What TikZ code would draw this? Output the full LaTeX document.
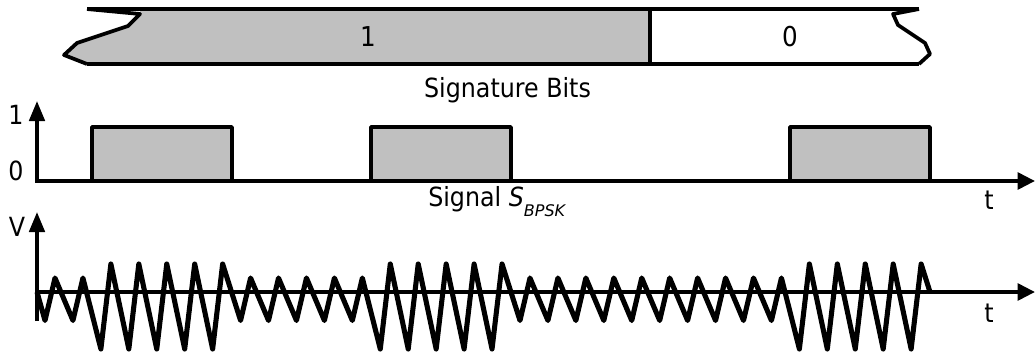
\documentclass[tikz,border=0pt]{standalone}
\usepackage{fontspec}
\setmainfont{DejaVu Sans}[FakeStretch=0.9]
\newfontfamily\subfont{DejaVu Sans}
\usetikzlibrary{arrows.meta}
\definecolor{sgray}{HTML}{C0C0C0}
\begin{document}
\begin{tikzpicture}[x=0.75pt,y=-0.75pt,
  ln/.style={line width=2.8pt, line join=round},
  pulse/.style={line width=2.8pt, line join=round, fill=sgray, draw=black},
  wave/.style={line width=3.8pt, line join=round},
  yarrow/.style={line width=2.8pt, {Triangle[length=15pt,width=11.5pt]}-{Triangle[length=13pt,width=12.5pt]}},
  xarrow/.style={line width=2.8pt, -{Triangle[length=13pt,width=12.5pt]}},
  lbl/.style={inner sep=0pt, font=\fontsize{19.8}{20}\selectfont},
  big/.style={inner sep=0pt, font=\fontsize{20.5}{21}\selectfont},
]
\useasboundingbox (0,0) rectangle (1036,354);

% ---- signature bits band ----
\fill[sgray] (140,14) -- (128,26) -- (77,43) -- (64,55) -- (87,64) -- (650,64) -- (650,9) -- (140,9) -- cycle;
\draw[ln] (87,9) -- (919,9);
\draw[ln] (87,64) -- (919,64);
\draw[ln] (87,9) -- (140,14) -- (128,26) -- (77,43) -- (64,55) -- (87,64);
\draw[ln] (919,9) -- (893,14) -- (898,25) -- (925,43) -- (930,54) -- (919,64);
\draw[ln] (650,9) -- (650,64);
\node[big] (b1) at (368,37) {1};
\node[big] (b0) at (790,37) {0};
\node[lbl, anchor=base] (sigbits) at (507.5,97) {Signature Bits};

% ---- signal S_BPSK ----
\draw[pulse] (92,127) rectangle (232,181);
\draw[pulse] (371,127) rectangle (511,181);
\draw[pulse] (790,127) rectangle (930,181);
\coordinate (o1) at (37,181);
\coordinate (y1) at (37,101);
\coordinate (x1) at (1035,181);
\draw[yarrow] (y1) -- (o1) -- (x1);
\node[lbl] (one) at (16,115) {1};
\node[lbl] (zero) at (16,171) {0};
\node[lbl] (t1) at (989,200) {t};
\node[lbl, anchor=base west] (sbpsk) at (428,206) {Signal \textit{S}\raisebox{-8pt}{\subfont\itshape\fontsize{12}{12}\selectfont BPSK}};

% ---- modulated wave ----
\coordinate (o2) at (37,321);
\coordinate (y2) at (37,212);
\coordinate (x2s) at (35,292);
\coordinate (x2) at (1035,292);
\draw[line width=2.8pt, -{Triangle[length=15pt,width=11.5pt]}] (o2) -- (y2);
\draw[xarrow] (x2s) -- (x2);
\draw[wave] (37,292)
  \foreach \k/\a in {0/1,1/1,2/2,3/2,4/2,5/2,6/2,7/1,8/1,9/1,10/1,11/1,12/2,13/2,14/2,15/2,16/2,17/1,18/1,19/1,20/1,21/1,22/1,23/1,24/1,25/1,26/1,27/2,28/2,29/2,30/2,31/2}
  { -- ({45+27.94*\k},{292+28.5*\a}) -- ({55+27.94*\k},{292-14*\a}) }
  -- (930,292);
\node[lbl] (V) at (17,227) {V};
\node[lbl] (t2) at (989,313) {t};
\end{tikzpicture}
\end{document}
